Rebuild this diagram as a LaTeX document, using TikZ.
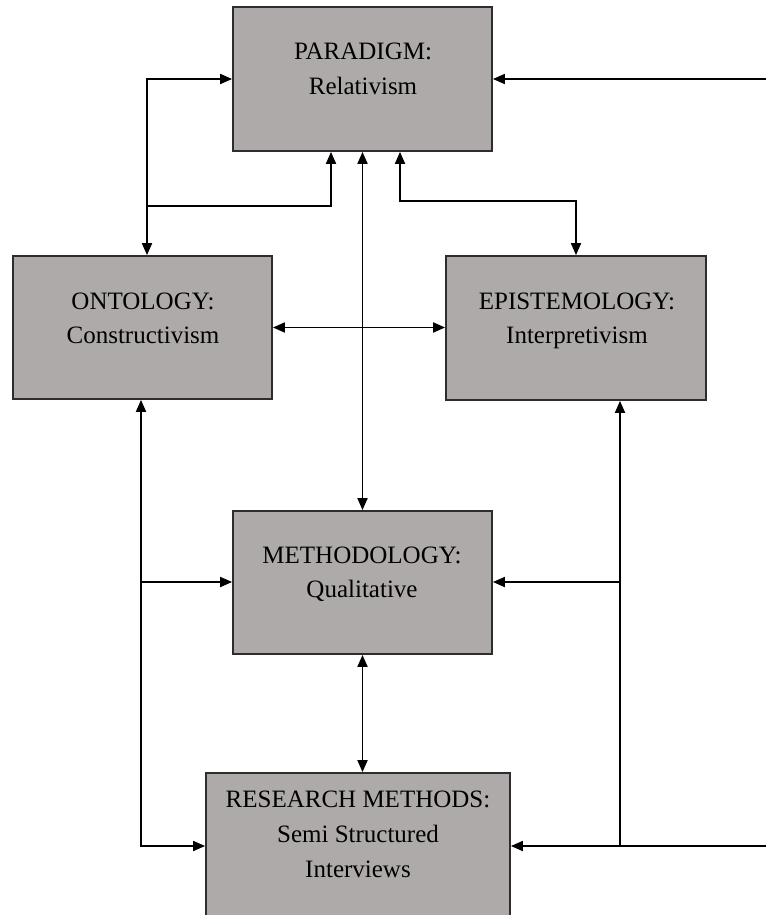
\documentclass[tikz,border=0pt]{standalone}
\usepackage{fontspec}
\setmainfont{Liberation Serif}
\usetikzlibrary{arrows.meta}
\definecolor{boxfill}{RGB}{174,170,169}
\definecolor{boxline}{RGB}{45,45,45}
\begin{document}
\begin{tikzpicture}[x=1pt,y=-1pt,
  conceptbox/.style={draw=boxline,fill=boxfill,line width=1.8pt,inner sep=0pt},
  boxtext/.style={anchor=base,inner sep=0pt,font=\fontsize{25}{30}\selectfont,text=black},
  link/.style={line width=1.8pt,-{Triangle[length=12pt,width=10pt]}},
  bilink/.style={line width=1.8pt,{Triangle[length=12pt,width=10pt]}-{Triangle[length=12pt,width=10pt]}}]
\useasboundingbox (0,0) rectangle (766,915);

% boxes
\node[conceptbox,minimum width=259pt,minimum height=144pt] (par) at (362.5,79) {};
\node[conceptbox,minimum width=259pt,minimum height=143pt] (ont) at (142.5,327.5) {};
\node[conceptbox,minimum width=260pt,minimum height=144pt] (epi) at (576,328) {};
\node[conceptbox,minimum width=259pt,minimum height=143pt] (met) at (362.5,582.5) {};
\node[conceptbox,minimum width=304pt,minimum height=170pt] (res) at (358,858) {};

% labels
\node[boxtext] (par1) at (363,60) {PARADIGM:};
\node[boxtext] (par2) at (363,95) {Relativism};
\node[boxtext] (ont1) at (143,309) {ONTOLOGY:};
\node[boxtext] (ont2) at (143,343) {Constructivism};
\node[boxtext] (epi1) at (577,309) {EPISTEMOLOGY:};
\node[boxtext] (epi2) at (577,343) {Interpretivism};
\node[boxtext] (met1) at (362,563) {METHODOLOGY:};
\node[boxtext] (met2) at (362,597) {Qualitative};
\node[boxtext] (res1) at (358,807) {RESEARCH METHODS:};
\node[boxtext] (res2) at (358,842) {Semi Structured};
\node[boxtext] (res3) at (358,877) {Interviews};

% junction points
\coordinate (ja) at (147,206);
\coordinate (lm) at (141,582);
\coordinate (lb) at (141,846);
\coordinate (rm) at (620,582);
\coordinate (rb) at (620,846);
\coordinate (re) at (766,846);
\coordinate (tr) at (766,79);

% paradigm links
\draw[bilink] (par.west) -| ([xshift=4.5pt]ont.north);
\draw[link] (ja) -| ([xshift=-31.5pt]par.south);
\draw[bilink] (par.south) -- (par.south |- met.north);
\draw[bilink] ([xshift=37.5pt]par.south) |- ([yshift=54pt]epi.north) -- (epi.north);
\draw[link] (tr) -- (tr -| par.east);

% ontology <-> epistemology
\draw[bilink] (ont.east) -- (ont.east -| epi.west);

% left side
\draw[bilink] (lb |- ont.south) -- (lb) -- (lb -| res.west);
\draw[link] (lm) -- (lm -| met.west);

% right side
\draw[link] (re) -- (re -| res.east);
\draw[link] (rb) -- (rb |- epi.south);
\draw[link] (rm) -- (rm -| met.east);

% methodology <-> research methods
\draw[bilink] (met.south) -- (met.south |- res.north);
\end{tikzpicture}
\end{document}
